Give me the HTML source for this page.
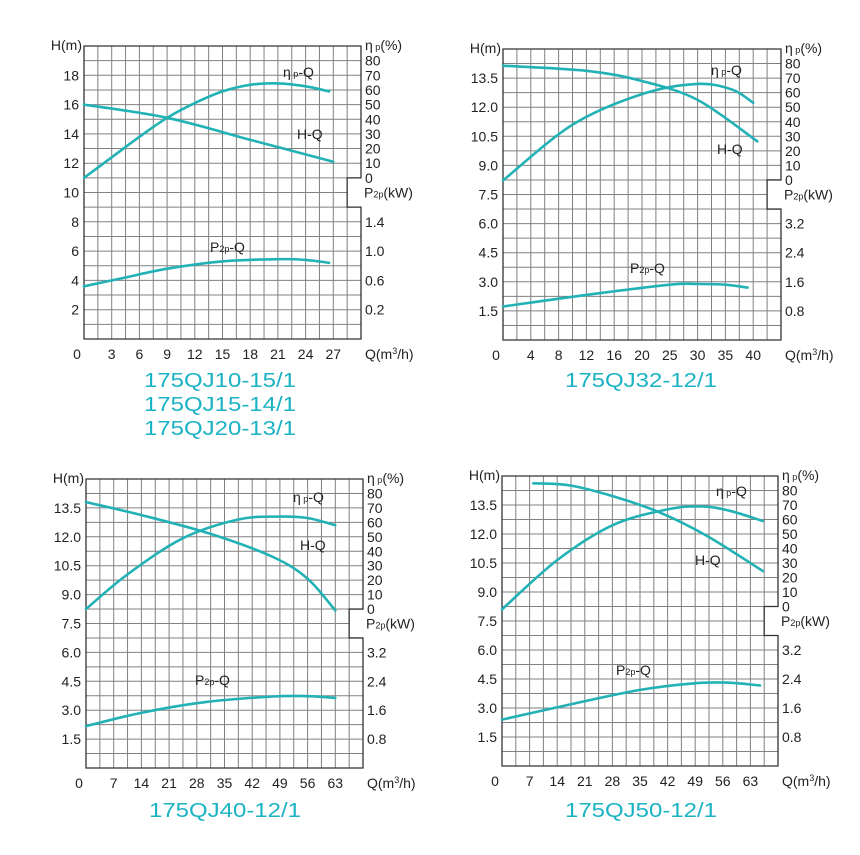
<!DOCTYPE html>
<html><head><meta charset="utf-8">
<style>
html,body{margin:0;padding:0;background:#fff;}
svg{display:block;}
text{font-family:"Liberation Sans",Arial,sans-serif;fill:#222;}
.t{font-size:14px;}
.title{font-size:20px;fill:#1bb3c3;}
</style></head>
<body>
<svg id="s" width="860" height="855" viewBox="0 0 860 855" xmlns="http://www.w3.org/2000/svg"></svg>
<script>
const NS="http://www.w3.org/2000/svg";
const svg=document.getElementById('s');
function el(tag,attrs,txt){const e=document.createElementNS(NS,tag);for(const k in attrs)e.setAttribute(k,attrs[k]);if(txt!==undefined)e.textContent=txt;svg.appendChild(e);return e;}
function smooth(pts){let d='M'+pts[0][0].toFixed(1)+','+pts[0][1].toFixed(1);
 for(let i=0;i<pts.length-1;i++){const p0=pts[i-1]||pts[i],p1=pts[i],p2=pts[i+1],p3=pts[i+2]||p2;
 const c1=[p1[0]+(p2[0]-p0[0])/6,p1[1]+(p2[1]-p0[1])/6],c2=[p2[0]-(p3[0]-p1[0])/6,p2[1]-(p3[1]-p1[1])/6];
 d+=' C'+c1.map(v=>v.toFixed(1)).join(',')+' '+c2.map(v=>v.toFixed(1)).join(',')+' '+p2.map(v=>v.toFixed(1)).join(',');}
 return d;}
function chart(c){
 const {L,R,T,B}=c;const cw=(R-L)/20,rh=(B-T)/20;
 const X=col=>L+col*cw,Y=row=>B-row*rh;
 for(let i=1;i<20;i++){el('line',{x1:X(i),y1:T,x2:X(i),y2:B,stroke:'#808080','stroke-width':1});}
 for(let j=1;j<20;j++){el('line',{x1:L,y1:Y(j),x2:R,y2:Y(j),stroke:'#808080','stroke-width':1});}
 el('rect',{x:X(19)+0.5,y:Y(11),width:cw+2,height:2*rh,fill:'#fff'});
 el('path',{d:`M${L},${T} H${R} V${Y(11)} H${X(19)} V${Y(9)} H${R} V${B} H${L} Z`,fill:'none',stroke:'#333','stroke-width':1.3});
 c.xl.forEach((s,k)=>{el('text',{x:k==0?L-7:X(2*k),y:B+20,'text-anchor':'middle',class:'t'},s);});
 el('text',{x:R+4,y:B+20,class:'t'}).innerHTML='Q(m<tspan dy="-5" font-size="9">3</tspan><tspan dy="5">/h)</tspan>';
 c.yl.forEach((s,k)=>{el('text',{x:L-5,y:Y(2*(k+1))+5,'text-anchor':'end',class:'t'},s);});
 el('text',{x:L-2,y:T+4,'text-anchor':'end',class:'t'},'H(m)');
 for(let k=0;k<=8;k++){el('text',{x:R+4,y:Y(11+k)+5,class:'t'},String(k*10));}
 el('text',{x:R+4,y:T+4,class:'t'}).innerHTML='η<tspan font-size="9"> p</tspan>(%)';
 el('text',{x:R+3,y:Y(10)+5,class:'t'}).innerHTML='P<tspan font-size="9">2p</tspan>(kW)';
 c.pl.forEach((s,k)=>{el('text',{x:R+4,y:Y(2*(k+1))+5,class:'t'},s);});
 ['H','E','P'].forEach(n=>{el('path',{d:smooth(c[n].map(p=>[X(p[0]),Y(p[1])])),fill:'none',stroke:'#22b2b6','stroke-width':2.6,'stroke-linecap':'round'});});
 el('text',{x:c.le[0],y:c.le[1]+5,class:'t'}).innerHTML='η<tspan font-size="9"> p</tspan>-Q';
 el('text',{x:c.lh[0],y:c.lh[1]+5,class:'t'},'H-Q');
 el('text',{x:c.lp[0],y:c.lp[1]+5,class:'t'}).innerHTML='P<tspan font-size="9">2p</tspan>-Q';
}
chart({L:84,R:361,T:46,B:339,
 xl:['0','3','6','9','12','15','18','21','24','27'],
 yl:['2','4','6','8','10','12','14','16','18'],
 pl:['0.2','0.6','1.0','1.4'],
 H:[[0,16],[6,15.1],[12,13.6],[18,12.1]],
 E:[[0,11],[2,12.4],[4,13.8],[6,15.1],[8,16.1],[10,16.9],[12,17.35],[14,17.45],[16,17.25],[17.7,16.9]],
 P:[[0,3.6],[3,4.2],[6,4.8],[10,5.3],[14,5.45],[16,5.4],[17.7,5.2]],
 le:[283,72],lh:[297,134],lp:[210,247]});
chart({L:503,R:781,T:49,B:340,
 xl:['0','4','8','12','16','20','25','30','35','40'],
 yl:['1.5','3.0','4.5','6.0','7.5','9.0','10.5','12.0','13.5'],
 pl:['0.8','1.6','2.4','3.2'],
 H:[[0,18.85],[6,18.5],[10,17.8],[14,16.5],[18.3,13.65]],
 E:[[0,10.96],[5,14.8],[10,16.9],[14,17.6],[16.5,17.2],[18,16.3]],
 P:[[0,2.3],[6,3.1],[12,3.8],[14,3.85],[16,3.8],[17.6,3.6]],
 le:[711,70],lh:[717,149],lp:[630,268]});
chart({L:86,R:363,T:479,B:768,
 xl:['0','7','14','21','28','35','42','49','56','63'],
 yl:['1.5','3.0','4.5','6.0','7.5','9.0','10.5','12.0','13.5'],
 pl:['0.8','1.6','2.4','3.2'],
 H:[[0,18.4],[4,17.5],[9,16.2],[13.5,14.6],[16,13.1],[18,10.9]],
 E:[[0,11],[3,13.4],[7,15.9],[11,17.2],[14,17.4],[16,17.3],[18,16.8]],
 P:[[0,2.9],[3.9,3.8],[8.5,4.55],[13.5,4.95],[16,4.97],[18,4.85]],
 le:[293,497],lh:[300,545],lp:[195,680]});
chart({L:502,R:778,T:476,B:766,
 xl:['0','7','14','21','28','35','42','49','56','63'],
 yl:['1.5','3.0','4.5','6.0','7.5','9.0','10.5','12.0','13.5'],
 pl:['0.8','1.6','2.4','3.2'],
 H:[[2.27,19.5],[4.9,19.35],[8.05,18.6],[11.4,17.5],[14.8,15.9],[18.9,13.45]],
 E:[[0,10.8],[4,14.2],[8,16.6],[12,17.7],[14.5,17.9],[16.5,17.6],[18.9,16.9]],
 P:[[0,3.2],[5.2,4.3],[10,5.25],[13.85,5.7],[16.3,5.75],[18.7,5.55]],
 le:[716,491],lh:[695,560],lp:[616,670]});
function title(x,y,s){el('text',{x:x,y:y,'text-anchor':'middle',class:'title',transform:`translate(${x},${y}) scale(1.2,1) translate(${-x},${-y})`},s);}
title(220,387,'175QJ10-15/1');title(220,411,'175QJ15-14/1');title(220,435,'175QJ20-13/1');
title(641,387,'175QJ32-12/1');
title(225,817,'175QJ40-12/1');title(641,817,'175QJ50-12/1');
</script>
</body></html>
